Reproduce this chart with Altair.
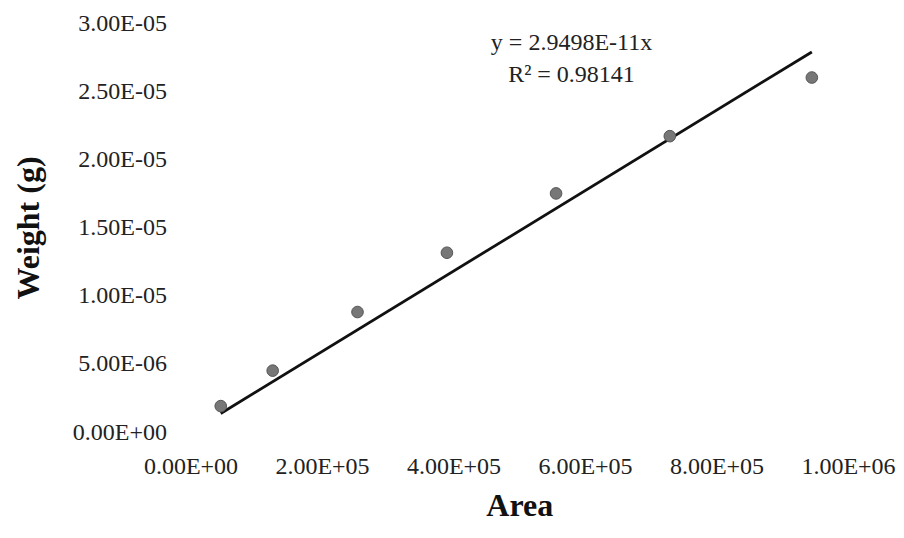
import altair as alt
import pandas as pd

# Data
area = [4.6e4, 1.25e5, 2.54e5, 3.90e5, 5.56e5, 7.29e5, 9.45e5]
weight = [1.9e-6, 4.5e-6, 8.8e-6, 1.315e-5, 1.75e-5, 2.17e-5, 2.60e-5]
slope = 2.9498e-11
eq_lines = ["y = 2.9498E-11x", "R² = 0.98141"]
x_ticks = [0, 2e5, 4e5, 6e5, 8e5, 1e6]
y_ticks = [0, 5e-6, 1e-5, 1.5e-5, 2e-5, 2.5e-5, 3e-5]

pts = pd.DataFrame({"Area": area, "Weight": weight})
fit = pd.DataFrame({"Area": [min(area), max(area)],
                    "Weight": [slope * min(area), slope * max(area)]})

FONT = "Liberation Serif"
lab = "replace(replace(format(datum.value, '.2e'), 'e-', 'E-0'), 'e+', 'E+0')"

xenc = alt.X("Area:Q", scale=alt.Scale(domain=[0, 1e6], nice=False, zero=True),
             axis=alt.Axis(values=x_ticks, labelExpr=lab, title="Area",
                           domain=False, ticks=False, grid=False, labelOverlap=False,
                           labelFlush=False,
                           labelFont=FONT, labelFontSize=24, labelColor="#222222",
                           labelPadding=22, titleFont=FONT, titleFontSize=32,
                           titleFontWeight="bold", titleColor="#111111",
                           titleBaseline="middle", titleY=73))
yenc = alt.Y("Weight:Q", scale=alt.Scale(domain=[0, 3e-5], nice=False),
             axis=alt.Axis(values=y_ticks, labelExpr=lab, title="Weight (g)",
                           domain=False, ticks=False, grid=False, labelOverlap=False,
                           labelFlush=False,
                           labelFont=FONT, labelFontSize=24, labelColor="#222222",
                           labelPadding=24, titleFont=FONT, titleFontSize=32,
                           titleFontWeight="bold", titleColor="#111111",
                           titleAngle=-90, titleBaseline="middle", titleAlign="center",
                           titleX=-162, titleY=204.5))

line = alt.Chart(fit).mark_line(color="#111111", strokeWidth=2.8).encode(x=xenc, y=yenc)
points = alt.Chart(pts).mark_circle(size=135, color="#777777", opacity=1,
                                    stroke="#555555", strokeWidth=1).encode(x=xenc, y=yenc)

texts = []
for i, t in enumerate(eq_lines):
    texts.append(
        alt.Chart(pd.DataFrame({"t": [t]})).mark_text(
            font=FONT, fontSize=24, color="#222222", align="center", baseline="middle"
        ).encode(text="t:N", x=alt.value(381), y=alt.value(20 + 32 * i))
    )

chart = alt.layer(line, points, *texts).properties(
    width=657.5, height=409,
    autosize=alt.AutoSizeParams(type="none"),
    padding={"left": 182.5, "top": 15, "right": 48, "bottom": 98},
    background="white",
).configure_view(stroke=None)

chart.save("out.html", embed_options={"renderer": "svg", "actions": False})
